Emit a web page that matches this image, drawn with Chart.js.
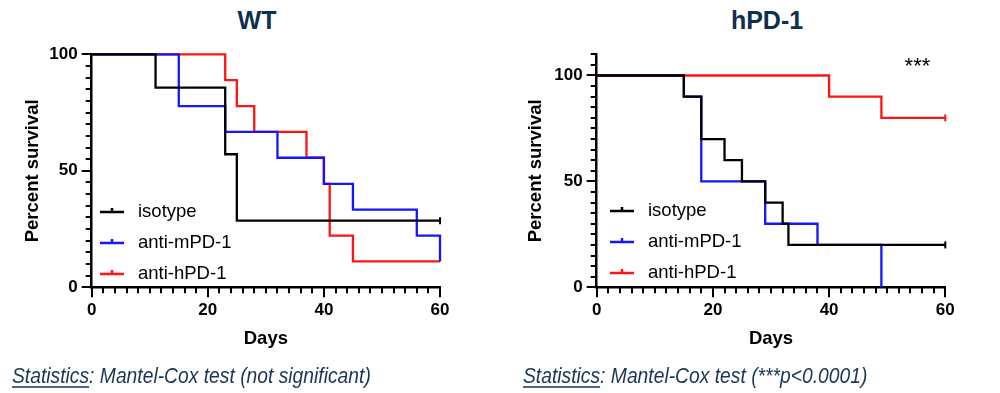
<!DOCTYPE html>
<html>
<head>
<meta charset="utf-8">
<script src="https://cdn.jsdelivr.net/npm/chart.js@4.4.1/dist/chart.umd.min.js"></script>
<style>
  body { margin: 0; background: #fff; width: 1000px; height: 393px; position: relative; overflow: hidden; font-family: "Liberation Sans", Arial, sans-serif; }
  canvas { position: absolute; top: 0; }
  .title { position: absolute; top: 8px; width: 200px; text-align: center; font-weight: bold; font-size: 25px; line-height: 25px; color: #0f2f4d; }
  .stats { position: absolute; top: 365px; font-style: italic; font-size: 22px; line-height: 22px; color: #1b3556; white-space: nowrap; transform: scaleX(0.876); transform-origin: left top; }
  .stats u { text-decoration-color: #4a6688; text-decoration-thickness: 1.5px; text-underline-offset: 3px; }
</style>
</head>
<body>
<div class="title" style="left:157px">WT</div>
<div class="title" style="left:667px">hPD-1</div>
<canvas id="wt" width="490" height="393" style="left:0"></canvas>
<canvas id="hpd" width="500" height="393" style="left:500px"></canvas>
<div class="stats" style="left:12px"><u>Statistics</u>: Mantel-Cox test (not significant)</div>
<div class="stats" style="left:523px"><u>Statistics</u>: Mantel-Cox test (***p&lt;0.0001)</div>
<script>
var seriesNames = ['isotype', 'anti-mPD-1', 'anti-hPD-1'];
var seriesColors = ['#000000', '#1414ff', '#ff1414'];

// WT mice
var wtIsoDays = [0, 11, 23, 25, 60];
var wtIsoSurv = [100, 85.7, 57.1, 28.6, 28.6];
var wtMDays = [0, 15, 23, 32, 40, 45, 56, 60];
var wtMSurv = [100, 77.8, 66.7, 55.6, 44.4, 33.3, 22.2, 11.1];
var wtHDays = [0, 23, 25, 28, 37, 40, 41, 45, 60];
var wtHSurv = [100, 88.9, 77.8, 66.7, 55.6, 44.4, 22.2, 11.1, 11.1];
var wtCensorEnd = [true, false, false];

// hPD-1 mice
var hpdIsoDays = [0, 15, 18, 22, 25, 29, 32, 33, 60];
var hpdIsoSurv = [100, 90, 70, 60, 50, 40, 30, 20, 20];
var hpdMDays = [0, 15, 18, 29, 38, 49];
var hpdMSurv = [100, 90, 50, 30, 20, 0];
var hpdHDays = [0, 40, 49, 60];
var hpdHSurv = [100, 90, 80, 80];
var hpdCensorEnd = [true, false, true];

var xTicks = [0, 20, 40, 60];
var yTicks = [0, 50, 100];

function pts(days, surv) {
  return days.map(function (d, i) { return { x: d, y: surv[i] }; });
}

function makeSet(i, data, censor, order) {
  return {
    label: seriesNames[i],
    data: data,
    borderColor: seriesColors[i],
    backgroundColor: seriesColors[i],
    borderWidth: 2.3,
    stepped: true,
    tension: 0,
    fill: false,
    clip: false,
    order: order,
    pointStyle: 'line',
    rotation: 90,
    pointBorderWidth: 2,
    pointBorderColor: seriesColors[i],
    pointRadius: function (c) { return censor && c.dataIndex === data.length - 1 ? 3.5 : 0; },
    pointHoverRadius: 0
  };
}

var decor = {
  id: 'decor',
  afterDraw: function (chart, args, opts) {
    var ctx = chart.ctx, a = chart.chartArea, x = chart.scales.x, y = chart.scales.y;
    ctx.save();
    ctx.strokeStyle = '#000';
    ctx.lineWidth = 2;
    ctx.beginPath();
    for (var v = y.min; v <= y.max; v += 5) {
      var py = Math.round(y.getPixelForValue(v));
      var len = v % 50 === 0 ? 10 : 6;
      ctx.moveTo(a.left - len, py); ctx.lineTo(a.left, py);
    }
    for (var d = x.min; d <= x.max; d += 2) {
      var px = Math.round(x.getPixelForValue(d));
      var l2 = d % 20 === 0 ? 10 : 6;
      ctx.moveTo(px, a.bottom); ctx.lineTo(px, a.bottom + l2);
    }
    ctx.stroke();

    // legend
    ctx.font = '18.5px "Liberation Sans", Arial, sans-serif';
    ctx.textBaseline = 'middle';
    ctx.textAlign = 'left';
    for (var i = 0; i < seriesNames.length; i++) {
      var lx = a.left + opts.legendX, ly = a.top + opts.legendY + i * 31;
      ctx.strokeStyle = seriesColors[i];
      ctx.lineWidth = 2.5;
      ctx.beginPath();
      ctx.moveTo(lx, ly); ctx.lineTo(lx + 24, ly);
      ctx.moveTo(lx + 12, ly - 4); ctx.lineTo(lx + 12, ly + 1);
      ctx.stroke();
      ctx.fillStyle = '#000';
      ctx.fillText(seriesNames[i], lx + 38, ly);
    }

    if (opts.stars) {
      ctx.font = '22px "Liberation Sans", Arial, sans-serif';
      ctx.textAlign = 'center';
      ctx.textBaseline = 'alphabetic';
      ctx.fillText(opts.stars, x.getPixelForValue(opts.starsAt[0]), y.getPixelForValue(opts.starsAt[1]) + 10);
    }
    ctx.restore();
  }
};

function makeChart(id, datasets, yMax, pad, yWidth, decorOpts) {
  return new Chart(document.getElementById(id), {
    type: 'line',
    data: { datasets: datasets },
    plugins: [decor],
    options: {
      responsive: false,
      animation: false,
      events: [],
      layout: { padding: pad },
      plugins: { legend: { display: false }, tooltip: { enabled: false }, decor: decorOpts },
      scales: {
        x: {
          type: 'linear', min: 0, max: 60,
          afterFit: function (s) { s.height = 105.7; },
          afterBuildTicks: function (s) { s.ticks = xTicks.map(function (v) { return { value: v }; }); },
          grid: { display: true, drawOnChartArea: false, drawTicks: true, tickLength: 10, tickColor: 'rgba(0,0,0,0)' },
          border: { display: true, color: '#000', width: 2.5 },
          ticks: { padding: 3, color: '#000', font: { family: '"Liberation Sans", Arial', size: 17, weight: 'bold' } },
          title: { display: true, text: 'Days', color: '#000', padding: { top: 4, bottom: 42.6 },
                   font: { family: '"Liberation Sans", Arial', size: 18.5, weight: 'bold' } }
        },
        y: {
          type: 'linear', min: 0, max: yMax,
          afterFit: function (s) { s.width = yWidth; },
          afterBuildTicks: function (s) { s.ticks = yTicks.map(function (v) { return { value: v }; }); },
          grid: { display: true, drawOnChartArea: false, drawTicks: true, tickLength: 10, tickColor: 'rgba(0,0,0,0)' },
          border: { display: true, color: '#000', width: 2.5 },
          ticks: { padding: 4, color: '#000', font: { family: '"Liberation Sans", Arial', size: 17, weight: 'bold' } },
          title: { display: true, text: 'Percent survival', color: '#000', padding: { top: 4, bottom: 4 },
                   font: { family: '"Liberation Sans", Arial', size: 18.5, weight: 'bold' } }
        }
      }
    }
  });
}

makeChart('wt', [
  makeSet(0, pts(wtIsoDays, wtIsoSurv), wtCensorEnd[0], 0),
  makeSet(1, pts(wtMDays, wtMSurv), wtCensorEnd[1], 1),
  makeSet(2, pts(wtHDays, wtHSurv), wtCensorEnd[2], 2)
], 100, { left: 18, right: 50, top: 54.3, bottom: 0 }, 73.7, { legendX: 8.3, legendY: 157.7 });

makeChart('hpd', [
  makeSet(0, pts(hpdIsoDays, hpdIsoSurv), hpdCensorEnd[0], 0),
  makeSet(1, pts(hpdMDays, hpdMSurv), hpdCensorEnd[1], 2),
  makeSet(2, pts(hpdHDays, hpdHSurv), hpdCensorEnd[2], 1)
], 110, { left: 21.3, right: 54.7, top: 54.3, bottom: 0 }, 75.4, { legendX: 13.3, legendY: 156.7, stars: '***', starsAt: [55.2, 105.7] });
</script>
</body>
</html>
